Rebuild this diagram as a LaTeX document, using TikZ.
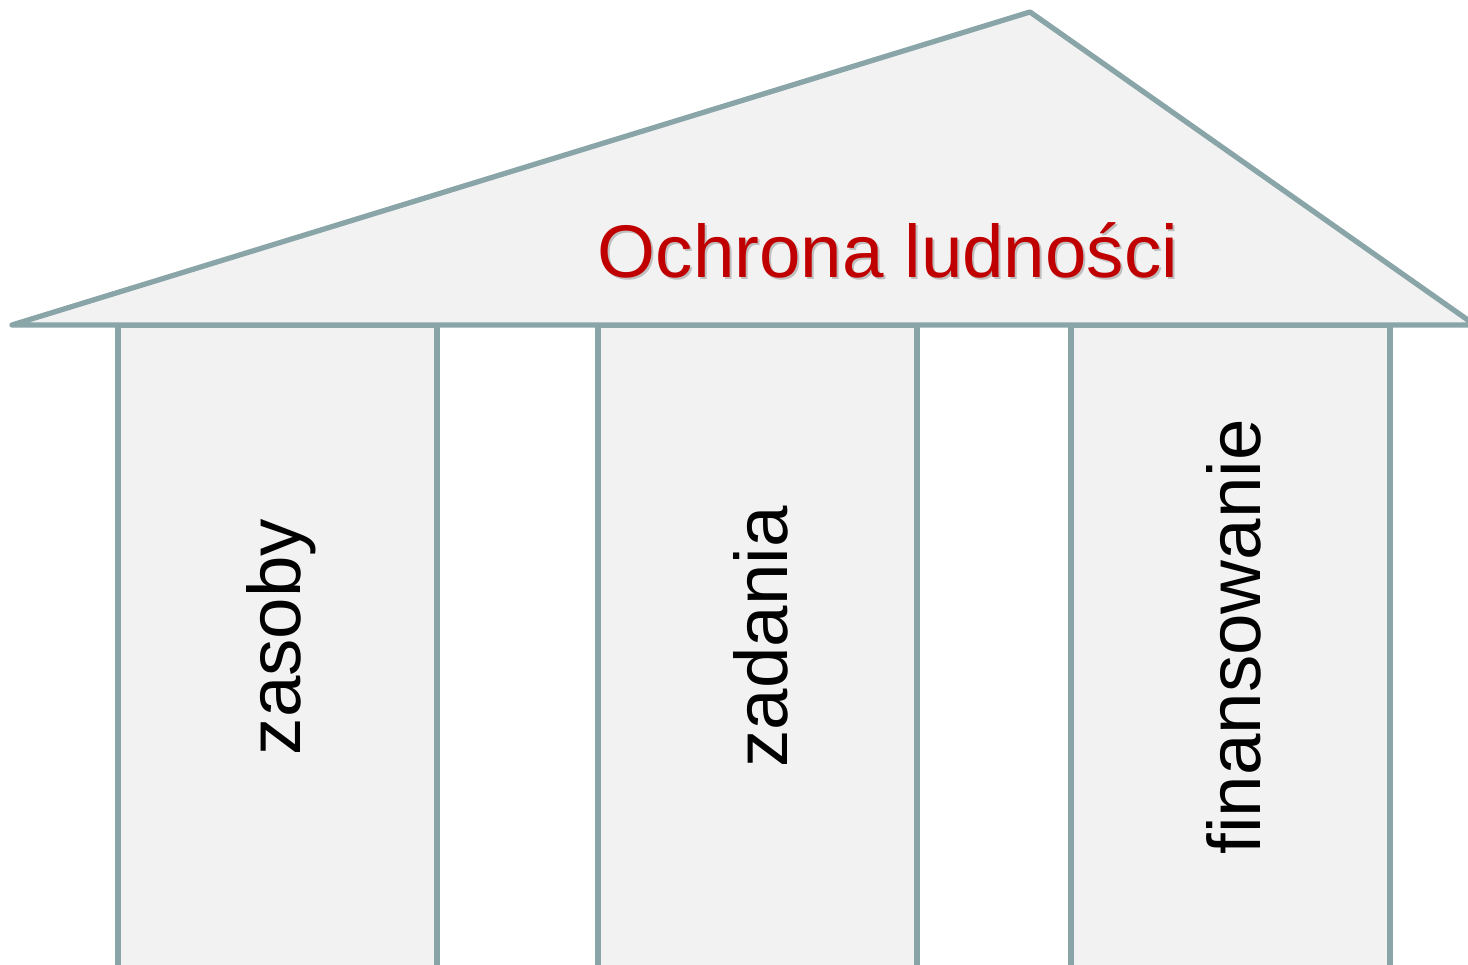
\documentclass[tikz,border=0pt]{standalone}
\usepackage{fontspec}
\setmainfont{Liberation Sans}
\usepackage{tikz}
\definecolor{edge}{HTML}{8AA5A8}
\definecolor{stone}{HTML}{F2F2F2}
\definecolor{title}{HTML}{C00000}
\tikzset{wall/.style={draw=edge, fill=stone, line width=1.5pt, line join=round, line cap=round}}
\tikzset{word/.style={font=\fontsize{21.2}{24}\selectfont, inner sep=0pt}}

\begin{document}
\begin{tikzpicture}[x=0.01cm, y=-0.01cm]
    \useasboundingbox(0, 0)rectangle(1468, 965);
    \clip(0, 0)rectangle(1468, 965);
    \coordinate(L)at(12, 325);
    \coordinate(A)at(1030, 12);
    \coordinate(R)at(1475, 325);
    % pillars
    \foreach \x/\t/\n in {118/zasoby/p1, 598/zadania/p2, 1071/finansowanie/p3}{
        \draw[wall](\x, 325)rectangle(\x+319, 990);
        \node[word, rotate=90](\n)at(\x+163, 637){\t};
    }
    % roof
    \draw[wall](L)--(A)--(R)--cycle;
    \node[word, text=black!25](shade)at(890, 252.5){Ochrona ludności};
    \node[word, text=title](roof)at(888, 250){Ochrona ludności};
\end{tikzpicture}
\end{document}
